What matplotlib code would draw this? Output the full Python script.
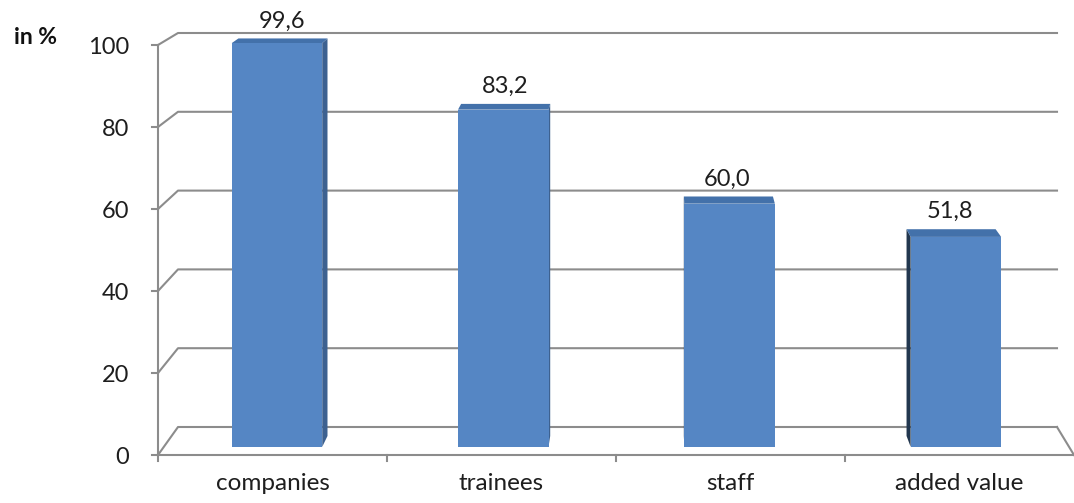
import matplotlib.pyplot as plt
from matplotlib.patches import Polygon

plt.rcParams['font.family'] = ['Lato', 'DejaVu Sans']

categories = ['companies', 'trainees', 'staff', 'added value']
values = [99.6, 83.2, 60.0, 51.8]
yticks = [0, 20, 40, 60, 80, 100]
unit_label = 'in %'

W, H = 1074, 503

# simple perspective: u = category position (0..4), v = value, t = depth (0 front, 1 back)
def proj(u, v, t):
    x = (158 + 20 * t) + (229 - 9.25 * t) * u
    y = (455 - 28 * t) - (4.1 - 0.16 * t) * v
    return x, y

fig = plt.figure(figsize=(W / 100, H / 100), dpi=100)
ax = fig.add_axes([0, 0, 1, 1])
ax.set_xlim(0, W)
ax.set_ylim(H, 0)
ax.axis('off')

grid_c = '#8c8c8c'
txt_c = '#1e1e1e'
n = len(categories)

# back wall gridlines + left wall diagonals
for v in yticks:
    x0, y0 = proj(0, v, 0)
    x1, y1 = proj(0, v, 1)
    x2, y2 = proj(n, v, 1)
    ax.plot([x0, x1, x2], [y0, y1, y2], color=grid_c, lw=1.5, zorder=1)
    ax.plot([x0 - 6, x0], [y0, y0], color=grid_c, lw=1.5, zorder=1)
    ax.text(x0 - 29, y0 + 2, str(v), ha='right', va='center', fontsize=17, color=txt_c)

# floor right edge and front edges
xa, ya = proj(n, 0, 1)
xb, yb = proj(n, 0, 0)
ax.plot([xa, xb], [ya, yb], color=grid_c, lw=1.5, zorder=1)
xf0, yf0 = proj(0, 0, 0)
ax.plot([xf0, xb], [yf0, yb], color=grid_c, lw=1.5, zorder=1)
xt, yt = proj(0, max(yticks), 0)
ax.plot([xf0, xt], [yf0 + 6, yt], color=grid_c, lw=1.5, zorder=1)
for i in range(1, n):
    xk, yk = proj(i, 0, 0)
    ax.plot([xk, xk], [yk, yk + 6], color=grid_c, lw=1.5, zorder=1)

ax.text(14, 37, unit_label, ha='left', va='center', fontsize=16.5,
        fontweight='bold', color='#111111')

# bars
front_c = '#5586c4'
top_c = '#4371aa'
right_c = '#3d6190'
left_c = '#22374f'
t_front, t_back = 0.29, 0.68
half = 0.2
for i, (cat, val) in enumerate(zip(categories, values)):
    uc = i + 0.5
    ul, ur = uc - half, uc + half
    fl_b = proj(ul, 0, t_front); fr_b = proj(ur, 0, t_front)
    fl_t = proj(ul, val, t_front); fr_t = proj(ur, val, t_front)
    bl_b = proj(ul, 0, t_back); br_b = proj(ur, 0, t_back)
    bl_t = proj(ul, val, t_back); br_t = proj(ur, val, t_back)
    if br_t[0] > fr_t[0]:
        ax.add_patch(Polygon([fr_b, fr_t, br_t, br_b], closed=True,
                             facecolor=right_c, edgecolor='none', zorder=3))
    if bl_t[0] < fl_t[0]:
        ax.add_patch(Polygon([fl_b, fl_t, bl_t, bl_b], closed=True,
                             facecolor=left_c, edgecolor='none', zorder=3))
    ax.add_patch(Polygon([fl_t, fr_t, br_t, bl_t], closed=True,
                         facecolor=top_c, edgecolor='none', zorder=3))
    ax.add_patch(Polygon([fl_b, fl_t, fr_t, fr_b], closed=True,
                         facecolor=front_c, edgecolor='none', zorder=4))

    # value label above the bar
    xl, yl = proj(uc, val, t_back)
    ax.text(xl - 1, yl - 11, f'{val:.1f}'.replace('.', ','), ha='center',
            va='baseline', fontsize=17, color=txt_c)

    # category label under the front edge
    xc, yc = proj(uc, 0, 0)
    ax.text(xc, yc + 29, cat, ha='center', va='center', fontsize=17.5,
            color=txt_c)

fig.savefig('out.png', dpi=100)
